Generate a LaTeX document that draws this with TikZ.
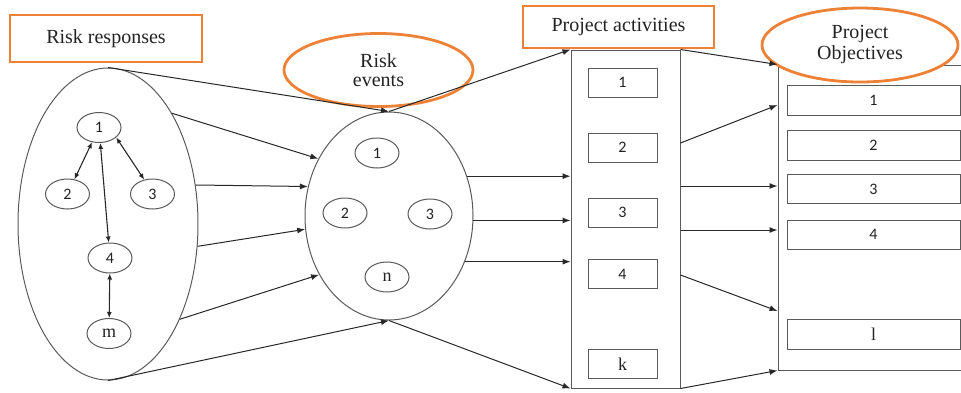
\documentclass[tikz,border=0pt]{standalone}
\usepackage{fontspec}
\setmainfont{Liberation Serif}
\newfontfamily\digitfont{Carlito}
\usetikzlibrary{shapes.geometric,arrows.meta}
\definecolor{offorange}{RGB}{237,130,55}
\definecolor{linegray}{RGB}{40,40,40}
\definecolor{shapegray}{RGB}{90,90,90}
\definecolor{textgray}{RGB}{35,35,35}
\begin{document}
\begin{tikzpicture}[x=1pt,y=-1pt,
  orangebox/.style={draw=offorange,line width=2.8pt,fill=white,inner sep=0pt,
    font=\fontsize{20}{22}\selectfont,text=textgray},
  orangeell/.style={ellipse,draw=offorange,line width=2.8pt,fill=white,inner sep=0pt,
    align=center,text=textgray},
  bigell/.style={ellipse,draw=shapegray,line width=1pt,inner sep=0pt},
  circ/.style={ellipse,draw=shapegray,line width=1pt,inner sep=0pt,
    minimum width=44pt,minimum height=30pt,text=textgray},
  dig/.style={font=\digitfont\fontsize{16}{17}\selectfont},
  let/.style={font=\fontsize{18}{19}\selectfont},
  tallbox/.style={draw=shapegray,line width=1pt,inner sep=0pt},
  itembox/.style={draw=shapegray,line width=1pt,inner sep=0pt,text=textgray},
  conn/.style={draw=linegray,line width=1pt,-{Latex[length=8pt,width=6pt]}},
  dconn/.style={draw=linegray,line width=1.1pt,{Latex[length=6pt,width=5pt]}-{Latex[length=6pt,width=5pt]}}
]
\clip (0,0) rectangle (961,392);
\fill[white] (0,0) rectangle (961,392);

% tall rectangles
\node[tallbox,minimum width=109pt,minimum height=338pt] (PA) at (625.5,219) {};
\node[tallbox,minimum width=212pt,minimum height=305pt] (PO) at (884,217.5) {};

% big ellipses
\node[bigell,minimum width=180pt,minimum height=312pt] (RR) at (108,224) {};
\node[bigell,minimum width=168pt,minimum height=208pt] (RE) at (389,216) {};

% orange labels
\node[orangebox,minimum width=192pt,minimum height=47pt] (lRR) at (106,38.5) {Risk responses};
\node[orangebox,minimum width=191pt,minimum height=42pt] (lPA) at (618.5,27) {Project activities};
\node[orangeell,minimum width=189pt,minimum height=73pt,
  font=\fontsize{20}{19}\selectfont] (lRE) at (378.5,70) {Risk\\events};
\node[orangeell,minimum width=196pt,minimum height=74pt,
  font=\fontsize{20}{21}\selectfont] (lPO) at (860,45) {Project\\Objectives};

% risk response circles
\node[circ,dig] (r1) at (99,127.5) {1};
\node[circ,dig] (r2) at (67.5,194) {2};
\node[circ,dig] (r3) at (152.5,194) {3};
\node[circ,dig] (r4) at (110,258) {4};
\node[circ,let] (rm) at (109,333.5) {m};

% risk event circles
\node[circ,dig] (e1) at (377,153) {1};
\node[circ,dig] (e2) at (345,213) {2};
\node[circ,dig] (e3) at (430,214) {3};
\node[circ,let] (en) at (387,277) {n};

% project activity boxes
\node[itembox,dig,minimum width=69pt,minimum height=29pt] (a1) at (622.5,82.5) {1};
\node[itembox,dig,minimum width=69pt,minimum height=29pt] (a2) at (622.5,147.5) {2};
\node[itembox,dig,minimum width=69pt,minimum height=29pt] (a3) at (622.5,212.5) {3};
\node[itembox,dig,minimum width=69pt,minimum height=29pt] (a4) at (622.5,274) {4};
\node[itembox,let,minimum width=69pt,minimum height=29pt] (ak) at (622.5,364) {k};

% project objective boxes
\node[itembox,dig,minimum width=173pt,minimum height=30pt] (o1) at (873.5,100) {1};
\node[itembox,dig,minimum width=173pt,minimum height=30pt] (o2) at (873.5,145) {2};
\node[itembox,dig,minimum width=173pt,minimum height=29pt] (o3) at (873.5,189) {3};
\node[itembox,dig,minimum width=173pt,minimum height=29pt] (o4) at (873.5,234.5) {4};
\node[itembox,let,minimum width=173pt,minimum height=30pt] (ol) at (873.5,334) {l};

% arrows inside risk responses
\draw[dconn] (r1) -- (r2);
\draw[dconn] (r1) -- (r4);
\draw[dconn] (r1.-30) -- (r3.120);
\draw[dconn] (r4) -- (rm);

% risk responses -> risk events
\draw[conn] (RR.north) -- (RE.north);
\draw[conn] (RR.60) -- (RE.141);
\draw[conn] (RR.24) -- (RE.160);
\draw[conn] (RR.-14) -- (RE.-171);
\draw[conn] (RR.-53) -- (RE.-140);
\draw[conn] (RR.south) -- (RE.south);

% risk events -> project activities
\draw[conn] (RE.north) -- (PA.north west);
\draw[conn] (RE.27) -- (RE.27 -| PA.west);
\draw[conn] (RE.-3) -- (RE.-3 -| PA.west);
\draw[conn] (RE.-31) -- (RE.-31 -| PA.west);
\draw[conn] (RE.south) -- (PA.south west);

% project activities -> project objectives
\coordinate (pa2) at (PA.east |- 0,143);
\coordinate (pa3) at (PA.east |- 0,186);
\coordinate (pa4) at (PA.east |- 0,230);
\coordinate (pa5) at (PA.east |- 0,275);
\draw[conn] (PA.north east) -- (PO.north west);
\draw[conn] (pa2) -- (PO.west |- 0,105);
\draw[conn] (pa3) -- (pa3 -| PO.west);
\draw[conn] (pa4) -- (pa4 -| PO.west);
\draw[conn] (pa5) -- (PO.west |- 0,311);
\draw[conn] (PA.south east) -- (PO.south west);
\end{tikzpicture}
\end{document}
